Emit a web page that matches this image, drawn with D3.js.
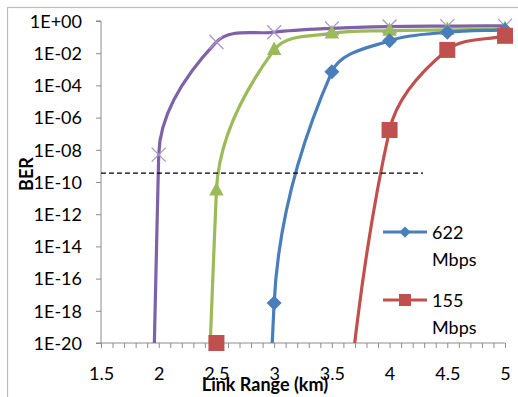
<!DOCTYPE html>
<html><head><meta charset="utf-8">
<script src="https://cdn.jsdelivr.net/npm/d3@7"></script>
<style>body{margin:0;background:#fff;} svg{display:block;}</style>
</head><body>
<svg id="c" width="518" height="397"></svg>
<script>
const linkRange = [1.5, 2, 2.5, 3, 3.5, 4, 4.5, 5];
const serPurple = [1e-300, 5e-9, 5e-2, 0.2, 0.35, 0.45, 0.48, 0.5];
const serGreen  = [null, 1e-170, 3e-11, 1.6e-2, 0.17, 0.25, 0.28, 0.32];
const serBlue   = [null, null, 1e-150, 3e-18, 7e-4, 6e-2, 0.2, 0.28];
const serRed    = [null, null, 1e-20, 1e-80, 1e-34, 1.7e-7, 1.6e-2, 0.12];
const legendNames = ["622", "155"];
const yTickExps = [0, -2, -4, -6, -8, -10, -12, -14, -16, -18, -20];
const xTicks = [1.5, 2, 2.5, 3, 3.5, 4, 4.5, 5];
const berThreshold = 3.6e-10;

const svg = d3.select("#c");
const L = 101, R = 505, T = 21, B = 343;
const x = d3.scaleLinear().domain([1.5, 5]).range([L, R]);
const y = d3.scaleLog().domain([1e-20, 1]).range([B, T]);
const font = "Lato, 'Open Sans', sans-serif";

svg.append("rect").attr("x", 7.5).attr("y", 7.5).attr("width", 520).attr("height", 400)
  .attr("fill", "none").attr("stroke", "#bdbdbd").attr("stroke-width", 1.2);

// axes
const yAxis = d3.axisLeft(y).tickValues(yTickExps.map(e => Math.pow(10, e)))
  .tickSize(5).tickPadding(14)
  .tickFormat(d => { const e = Math.round(Math.log10(d)); return "1E" + (e >= 0 ? "+" : "-") + String(Math.abs(e)).padStart(2, "0"); });
const gy = svg.append("g").attr("transform", `translate(${L},0)`).call(yAxis);
gy.select(".domain").attr("stroke", "#8c8c8c").attr("d", `M-5,${T}H0V${B}H-5`);
gy.selectAll(".tick line").attr("stroke", "#8c8c8c");
gy.selectAll("text").attr("font-family", font).attr("font-size", 18).attr("fill", "#000").attr("dy", "0.35em");

const minor = d3.range(15, 51).map(v => v / 10);
const xAxisMinor = d3.axisBottom(x).tickValues(minor).tickSize(5).tickFormat("");
const gxm = svg.append("g").attr("transform", `translate(0,${B})`).call(xAxisMinor);
gxm.select(".domain").attr("stroke", "#8c8c8c").attr("d", `M${L},0H${R}`);
gxm.selectAll(".tick line").attr("stroke", "#8c8c8c");
const xAxis = d3.axisBottom(x).tickValues(xTicks).tickSize(0).tickPadding(24)
  .tickFormat(d => String(d));
const gx = svg.append("g").attr("transform", `translate(0,${B})`).call(xAxis);
gx.select(".domain").remove();
gx.selectAll("text").attr("font-family", font).attr("font-size", 18).attr("fill", "#000");

// clip
svg.append("clipPath").attr("id", "clip").append("rect")
  .attr("x", L).attr("y", T - 15).attr("width", R - L + 20).attr("height", B - T + 15);

const series = [
  { vals: serPurple, color: "#7e62a8", mark: "x" },
  { vals: serGreen, color: "#9bbb59", mark: "tri" },
  { vals: serBlue, color: "#4a7ebb", mark: "dia" },
  { vals: serRed, color: "#c0504d", mark: "sq" }
];

// Excel-like smoothing: tangent direction from neighbours, handle length from chord
function smoothPath(P) {
  const p = d3.path();
  const n = P.length;
  const tan = P.map((pt, i) => {
    const a = P[Math.max(0, i - 1)], b = P[Math.min(n - 1, i + 1)];
    const dx = b[0] - a[0], dy = b[1] - a[1], len = Math.hypot(dx, dy) || 1;
    return [dx / len, dy / len];
  });
  p.moveTo(P[0][0], P[0][1]);
  for (let i = 0; i < n - 1; i++) {
    const d = Math.hypot(P[i + 1][0] - P[i][0], P[i + 1][1] - P[i][1]) / 3;
    p.bezierCurveTo(P[i][0] + tan[i][0] * d, P[i][1] + tan[i][1] * d,
      P[i + 1][0] - tan[i + 1][0] * d, P[i + 1][1] - tan[i + 1][1] * d,
      P[i + 1][0], P[i + 1][1]);
  }
  return p.toString();
}

const gl = svg.append("g").attr("clip-path", "url(#clip)");
series.forEach(s => {
  const pts = linkRange.map((v, i) => [v, s.vals[i]]).filter(d => d[1] != null)
    .map(d => [x(d[0]), y(d[1])]);
  gl.append("path").attr("d", smoothPath(pts)).attr("fill", "none")
    .attr("stroke", s.color).attr("stroke-width", 3.2).attr("stroke-linejoin", "round");
});

function drawMarker(g, kind, cx, cy, color, k) {
  k = k || 1;
  if (kind === "x") {
    const r = 7 * k;
    g.append("path").attr("d", `M${cx-r},${cy-r}L${cx+r},${cy+r}M${cx-r},${cy+r}L${cx+r},${cy-r}`)
      .attr("stroke", "#a996c8").attr("stroke-width", 1.3).attr("fill", "none");
  } else if (kind === "tri") {
    const r = 8.5 * k;
    g.append("path").attr("d", `M${cx},${cy-r}L${cx+r*0.85},${cy+r*0.6}L${cx-r*0.85},${cy+r*0.6}Z`).attr("fill", color);
  } else if (kind === "dia") {
    const r = 7.5 * k;
    g.append("path").attr("d", `M${cx},${cy-r}L${cx+r},${cy}L${cx},${cy+r}L${cx-r},${cy}Z`).attr("fill", color);
  } else {
    const r = 8 * k;
    g.append("rect").attr("x", cx - r).attr("y", cy - r).attr("width", 2 * r).attr("height", 2 * r).attr("fill", color);
  }
}
const gm = svg.append("g");
series.forEach(s => {
  linkRange.forEach((v, i) => {
    const val = s.vals[i];
    if (val == null || val < 1e-20 || val > 1) return;
    drawMarker(gm, s.mark, x(v), y(val), s.color);
  });
});

// threshold dashed line
svg.append("line").attr("x1", L).attr("x2", 423).attr("y1", y(berThreshold)).attr("y2", y(berThreshold))
  .attr("stroke", "#000").attr("stroke-width", 1.2).attr("stroke-dasharray", "5,3");

// legend
const leg = [{ s: series[2], name: legendNames[0], y: 232 }, { s: series[3], name: legendNames[1], y: 300 }];
leg.forEach(l => {
  svg.append("line").attr("x1", 383).attr("x2", 427).attr("y1", l.y).attr("y2", l.y)
    .attr("stroke", l.s.color).attr("stroke-width", 3.2);
  drawMarker(svg, l.s.mark, 405, l.y, l.s.color, 0.75);
  const t = svg.append("text").attr("x", 432).attr("y", l.y + 7).attr("font-family", font)
    .attr("font-size", 18).attr("fill", "#000");
  t.append("tspan").attr("x", 432).text(l.name);
  t.append("tspan").attr("x", 432).attr("dy", 27).text("Mbps");
});

// axis titles
svg.append("text").attr("x", 265).attr("y", 391).attr("text-anchor", "middle")
  .attr("font-family", font).attr("font-weight", "bold").attr("font-size", 18).text("Link Range (km)");
svg.append("text").attr("transform", "translate(33,174) rotate(-90)").attr("text-anchor", "middle")
  .attr("font-family", font).attr("font-weight", "bold").attr("font-size", 18).text("BER");
</script>
</body></html>
